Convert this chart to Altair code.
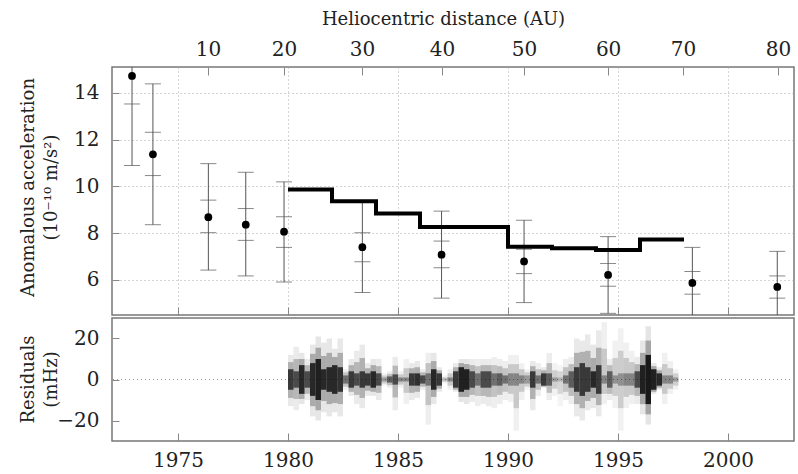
import altair as alt
import pandas as pd

# ---------------- data ----------------
# Anomalous acceleration points (year, value, inner / outer error bars)
pt_year = [1972.91, 1973.86, 1976.38, 1978.08, 1979.82, 1983.38, 1986.98, 1990.73, 1994.55, 1998.38, 2002.24]
pt_value = [14.72, 11.37, 8.68, 8.36, 8.06, 7.40, 7.08, 6.79, 6.21, 5.87, 5.70]
pt_inner_lo = [13.52, 10.46, 8.02, 7.69, 7.39, 6.78, 6.52, 6.27, 5.73, 5.39, 5.22]
pt_inner_hi = [15.92, 12.31, 9.41, 9.05, 8.70, 8.02, 7.66, 7.31, 6.70, 6.36, 6.17]
pt_outer_lo = [10.89, 8.36, 6.42, 6.17, 5.91, 5.46, 5.22, 5.03, 4.57, 4.35, 4.18]
pt_outer_hi = [18.55, 14.38, 10.97, 10.60, 10.19, 9.34, 8.94, 8.55, 7.85, 7.39, 7.22]

# Step curve (start year of each step, value)
step_year = [1980, 1982, 1984, 1986, 1990, 1992, 1994, 1996, 1998]
step_value = [9.86, 9.36, 8.84, 8.26, 7.42, 7.35, 7.28, 7.73, 7.73]

# Top axis: heliocentric distance ticks and the year at which each falls
dist_labels = [10, 20, 30, 40, 50, 60, 70, 80]
dist_tick_year = [1976.36, 1979.82, 1983.36, 1987.00, 1990.73, 1994.55, 1997.95, 2002.27]

year_ticks = [1975, 1980, 1985, 1990, 1995, 2000]
acc_ticks = [6, 8, 10, 12, 14]
res_ticks = [-20, 0, 20]

# Residual cloud, read per quarter-year: dense core half-height, sparse upper / lower extent (mHz), darkness
res_start = [1980.00, 1980.25, 1980.50, 1980.75, 1981.00, 1981.25, 1981.50, 1981.75,
             1982.00, 1982.25, 1982.50, 1982.75, 1983.00, 1983.25, 1983.50, 1983.75,
             1984.00, 1984.25, 1984.50, 1984.75, 1985.00, 1985.25, 1985.50, 1985.75,
             1986.00, 1986.25, 1986.50, 1986.75, 1987.00, 1987.25, 1987.50, 1987.75,
             1988.00, 1988.25, 1988.50, 1988.75, 1989.00, 1989.25, 1989.50, 1989.75,
             1990.00, 1990.25, 1990.50, 1990.75, 1991.00, 1991.25, 1991.50, 1991.75,
             1992.00, 1992.25, 1992.50, 1992.75, 1993.00, 1993.25, 1993.50, 1993.75,
             1994.00, 1994.25, 1994.50, 1994.75, 1995.00, 1995.25, 1995.50, 1995.75,
             1996.00, 1996.25, 1996.50, 1996.75, 1997.00, 1997.25, 1997.50]
res_core = [5, 4, 7, 4, 8, 10, 5, 6,
            7, 6, 2, 4, 3, 4, 3, 4,
            3, 1, 1.5, 2.5, 1, 1, 3, 3,
            2, 3, 5, 3, 0.5, 1, 4, 6,
            5, 4, 3, 4, 4, 3, 3, 2,
            3, 3, 2, 2, 4, 2, 3, 3,
            1, 1, 2, 4, 6, 8, 6, 4,
            7, 2, 4, 2, 3, 3, 3, 4,
            7, 12, 5, 3, 2, 2, 1]
res_hi = [12, 16, 13, 10, 17, 21, 18, 20,
          15, 20, 5, 10, 14, 17, 8, 10,
          10, 3, 4, 11, 4, 10, 8, 9,
          5, 13, 13, 6, 2, 5, 8, 10,
          10, 10, 10, 10, 10, 11, 10, 9,
          12, 12, 8, 5, 9, 8, 6, 13,
          8, 7, 10, 11, 20, 19, 22, 17,
          24, 28, 10, 19, 25, 18, 14, 11,
          19, 26, 8, 6, 13, 9, 5]
res_lo = [13, 15, 12, 10, 18, 20, 16, 18,
          16, 18, 5, 8, 12, 14, 8, 8,
          10, 3, 4, 15, 4, 12, 10, 9,
          5, 22, 12, 6, 2, 5, 6, 11,
          12, 11, 13, 12, 13, 14, 12, 10,
          11, 25, 10, 5, 15, 8, 4, 10,
          8, 13, 10, 12, 18, 20, 15, 14,
          18, 12, 10, 14, 25, 14, 12, 12,
          17, 22, 7, 5, 12, 7, 5]
res_dark = [0.8, 0.7, 0.9, 0.7, 0.9, 0.95, 0.9, 0.9,
            0.9, 0.85, 0.5, 0.8, 0.7, 0.8, 0.8, 0.9,
            0.7, 0.3, 0.6, 0.7, 0.4, 0.4, 0.8, 0.85,
            0.7, 0.5, 0.9, 0.8, 0.2, 0.4, 0.8, 0.95,
            0.95, 0.7, 0.5, 0.7, 0.7, 0.5, 0.6, 0.5,
            0.4, 0.4, 0.4, 0.3, 0.8, 0.5, 0.8, 0.6,
            0.3, 0.2, 0.5, 0.6, 0.8, 0.8, 0.8, 0.9,
            0.8, 0.4, 0.6, 0.35, 0.35, 0.4, 0.4, 0.7,
            0.95, 1.0, 0.95, 0.9, 0.4, 0.4, 0.3]
res_bin_width = 0.25

# ---------------- frames ----------------
pts = pd.DataFrame({"year": pt_year, "value": pt_value,
                    "ilo": pt_inner_lo, "ihi": pt_inner_hi,
                    "olo": pt_outer_lo, "ohi": pt_outer_hi})
caps = pd.DataFrame({"year": pt_year * 4,
                     "y": pt_inner_lo + pt_inner_hi + pt_outer_lo + pt_outer_hi})
steps = pd.DataFrame({"year": step_year, "value": step_value})

res = pd.DataFrame({"x": res_start, "core": res_core, "hi": res_hi, "lo": res_lo, "dark": res_dark})
res["x2"] = res["x"] + res_bin_width
res["core_hi"] = res["core"]
res["core_lo"] = -res["core"]
res["mid_hi"] = (res["core"] + res["hi"]) / 2
res["mid_lo"] = -(res["core"] + res["lo"]) / 2
res["sp_hi"] = res["hi"]
res["sp_lo"] = -res["lo"]
res["op_core"] = res["dark"] * 0.85
res["op_mid"] = 0.08 + 0.2 * res["dark"]
res["op_sp"] = 0.03 + 0.07 * res["dark"]
zero = pd.DataFrame({"y": [0]})

FONT = "DejaVu Serif"
TXT = "#222222"
FS = 20      # tick labels
TFS = 18     # axis titles
W, H_UP, H_LO = 682, 248, 123

xs = alt.Scale(domain=[1972, 2003], nice=False, zero=False)
ys_up = alt.Scale(domain=[4.5, 15.1], nice=False, zero=False)
ys_lo = alt.Scale(domain=[-30, 30], nice=False, zero=False)

common = dict(labelFont=FONT, labelFontSize=FS, labelColor=TXT,
              titleFont=FONT, titleFontSize=TFS, titleFontWeight="normal", titleColor=TXT,
              tickColor="#888888", tickWidth=1, domain=False)

ax_bottom_up = alt.Axis(orient="bottom", values=year_ticks, labels=False, ticks=True,
                        tickSize=8, offset=-8, grid=True,
                        gridDash=[1, 3], gridColor="#aaaaaa", title=None, **common)
label_expr = ("[" + ",".join(f"'{d}'" for d in dist_labels) + "][indexof(["
              + ",".join(str(v) for v in dist_tick_year) + "], datum.value)]")
ax_top = alt.Axis(orient="top", values=dist_tick_year, labelExpr=label_expr,
                  tickSize=8, offset=-8, grid=False, labelPadding=8,
                  labelOverlap=False, labelFlush=False,
                  title="Heliocentric distance (AU)", titleX=331, titleY=-51,
                  titleAlign="center", titleBaseline="alphabetic", titleAnchor="start", **common)
ax_left_up = alt.Axis(values=acc_ticks, tickSize=7, offset=-7, grid=True,
                      gridDash=[1, 3], gridColor="#aaaaaa", labelPadding=13,
                      title=["Anomalous acceleration", "(10⁻¹⁰ m/s²)"],
                      titleAngle=-90, titleX=-86, titleY=120, titleAlign="center",
                      titleBaseline="alphabetic", titleLineHeight=23, titleAnchor="start",
                      **common)

ebar = alt.Chart(pts).mark_rule(color="#555555", strokeWidth=1, clip=True).encode(
    x=alt.X("year:Q", scale=xs, axis=ax_bottom_up),
    y=alt.Y("olo:Q", scale=ys_up, axis=ax_left_up),
    y2="ohi:Q")
capm = alt.Chart(caps).mark_tick(orient="horizontal", size=16, thickness=1,
                                 color="#555555", clip=True).encode(
    x=alt.X("year:Q", scale=xs, axis=None),
    y=alt.Y("y:Q", scale=ys_up, axis=ax_left_up))
stepm = alt.Chart(steps).mark_line(interpolate="step-after", color="black",
                                   strokeWidth=4, clip=True).encode(
    x=alt.X("year:Q", scale=xs, axis=None),
    y=alt.Y("value:Q", scale=ys_up, axis=ax_left_up))
ptm = alt.Chart(pts).mark_circle(size=60, color="black", opacity=1).encode(
    x=alt.X("year:Q", scale=xs, axis=ax_top),
    y=alt.Y("value:Q", scale=ys_up, axis=ax_left_up))

upper = alt.layer(ebar, capm, stepm, ptm).resolve_axis(x="independent").properties(
    width=W, height=H_UP)

ax_bottom_lo = alt.Axis(orient="bottom", values=year_ticks, format="d", tickSize=8, offset=-8,
                        grid=False, labelPadding=9, labelFlush=False, title=None, **common)
ax_left_lo = alt.Axis(values=res_ticks, tickSize=7, offset=-7, grid=False,
                      labelPadding=13, title=["Residuals", "(mHz)"], titleAngle=-90,
                      titleX=-86, titleY=61, titleAlign="center", titleBaseline="alphabetic",
                      titleLineHeight=23, titleAnchor="start", **common)

zr = alt.Chart(zero).mark_rule(color="#999999", strokeDash=[1, 3], strokeWidth=1).encode(
    y=alt.Y("y:Q", scale=ys_lo, axis=ax_left_lo))
sp = alt.Chart(res).mark_rect(color="black", clip=True).encode(
    x=alt.X("x:Q", scale=xs, axis=ax_bottom_lo), x2="x2:Q",
    y=alt.Y("sp_lo:Q", scale=ys_lo, axis=ax_left_lo), y2="sp_hi:Q",
    opacity=alt.Opacity("op_sp:Q", scale=None, legend=None))
mid = alt.Chart(res).mark_rect(color="black", clip=True).encode(
    x=alt.X("x:Q", scale=xs, axis=ax_bottom_lo), x2="x2:Q",
    y=alt.Y("mid_lo:Q", scale=ys_lo, axis=ax_left_lo), y2="mid_hi:Q",
    opacity=alt.Opacity("op_mid:Q", scale=None, legend=None))
core = alt.Chart(res).mark_rect(color="black", clip=True).encode(
    x=alt.X("x:Q", scale=xs, axis=ax_bottom_lo), x2="x2:Q",
    y=alt.Y("core_lo:Q", scale=ys_lo, axis=ax_left_lo), y2="core_hi:Q",
    opacity=alt.Opacity("op_core:Q", scale=None, legend=None))

lower = alt.layer(zr, sp, mid, core).properties(width=W, height=H_LO)

chart = alt.vconcat(upper, lower, spacing=0).configure(font=FONT).configure_view(
    stroke="#777777", strokeWidth=1.5
).properties(
    background="white",
    padding={"left": 18, "top": 9, "right": 0, "bottom": 2}
)

chart.save("out.html", embed_options={"renderer": "svg", "actions": False})
